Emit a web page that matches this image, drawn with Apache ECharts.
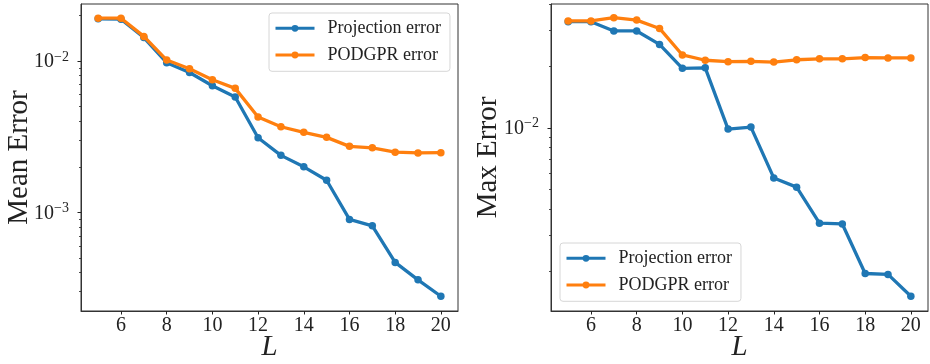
<!DOCTYPE html>
<html><head><meta charset="utf-8">
<script src="https://cdn.jsdelivr.net/npm/echarts@6/dist/echarts.min.js"></script>
<style>html,body{margin:0;padding:0;background:#fff}#c{width:930px;height:364px}</style>
</head><body><div id="c"></div>
<script>
const L = [5, 6, 7, 8, 9, 10, 11, 12, 13, 14, 15, 16, 17, 18, 19, 20];
const meanProjection = [0.0190, 0.0189, 0.0143, 0.00975, 0.0084, 0.00687, 0.00578, 0.00311, 0.00238, 0.00200, 0.00163, 0.000898, 0.000815, 0.000467, 0.000358, 0.000279];
const meanPodgpr = [0.0192, 0.0192, 0.01455, 0.01015, 0.0089, 0.00753, 0.0066, 0.00427, 0.00368, 0.00338, 0.00313, 0.00273, 0.00267, 0.00250, 0.00247, 0.00248];
const maxProjection = [0.0329, 0.0329, 0.02965, 0.02965, 0.0255, 0.0195, 0.0196, 0.00986, 0.01008, 0.0057, 0.00514, 0.00343, 0.0034, 0.00195, 0.00193, 0.00151];
const maxPodgpr = [0.0332, 0.0332, 0.0344, 0.0335, 0.0305, 0.02265, 0.02134, 0.02101, 0.0211, 0.0209, 0.02146, 0.0217, 0.0217, 0.0220, 0.0219, 0.0219];
const xTicks = [6, 8, 10, 12, 14, 16, 18, 20];
const leftMajor = [1e-3, 1e-2];
const leftMinor = [3e-4, 4e-4, 5e-4, 6e-4, 7e-4, 8e-4, 9e-4, 2e-3, 3e-3, 4e-3, 5e-3, 6e-3, 7e-3, 8e-3, 9e-3, 2e-2];
const rightMajor = [1e-2];
const rightMinor = [2e-3, 3e-3, 4e-3, 5e-3, 6e-3, 7e-3, 8e-3, 9e-3, 2e-2, 3e-2, 4e-2];
const seriesNames = ['Projection error', 'PODGPR error'];
const yTitles = ['Mean Error', 'Max Error'];
const xTitle = 'L';

const FONT = '"Liberation Serif", "DejaVu Serif", serif';
const TXT = '#222';
const BLUE = '#1f77b4', ORANGE = '#ff7f0e';

const panels = [
  {left: 81, proj: meanProjection, pod: meanPodgpr, yMin: Math.pow(10, -3.652), yMax: Math.pow(10, -1.623), major: leftMajor, minor: leftMinor, legend: {left: 269, top: 13}, titleX: 19},
  {left: 551, proj: maxProjection, pod: maxPodgpr, yMin: Math.pow(10, -2.8927), yMax: Math.pow(10, -1.3966), major: rightMajor, minor: rightMinor, legend: {left: 560, top: 243}, titleX: 488.5}
];
const GW = 377, GT = 4, GH = 307;

const option = {
  animation: false,
  grid: [], xAxis: [], yAxis: [], series: [], legend: [], graphic: []
};

panels.forEach((p, i) => {
  option.grid.push({left: p.left, top: GT, width: GW, height: GH, show: true, borderColor: '#333', borderWidth: 1, backgroundColor: 'transparent', containLabel: false, outerBoundsMode: 'none'});
  option.xAxis.push({
    gridIndex: i, type: 'value', min: 4.25, max: 20.75,
    axisLine: {show: true, lineStyle: {color: '#333', width: 1}},
    splitLine: {show: false},
    axisTick: {show: true, customValues: xTicks, length: 3.5, lineStyle: {color: TXT, width: 1}},
    axisLabel: {customValues: xTicks, margin: 5, fontFamily: FONT, fontSize: 20, color: TXT}
  });
  const lo = Math.log10(p.yMin), hi = Math.log10(p.yMax);
  const yBase = option.yAxis.length;
  option.yAxis.push({gridIndex: i, type: 'log', logBase: 10, min: p.yMin, max: p.yMax, show: false});
  option.yAxis.push({
    gridIndex: i, type: 'value', min: lo, max: hi, position: 'left',
    axisLine: {show: true, lineStyle: {color: '#333', width: 1}},
    splitLine: {show: false},
    axisTick: {show: true, customValues: p.major.map(Math.log10), length: 3.5, lineStyle: {color: TXT, width: 1}},
    axisLabel: {
      customValues: p.major.map(Math.log10), margin: 12,
      formatter: v => '{b|10}{s|\u2212' + Math.abs(Math.round(v)) + '}',
      rich: {
        b: {fontFamily: FONT, fontSize: 20, color: TXT, lineHeight: 22, verticalAlign: 'bottom'},
        s: {fontFamily: FONT, fontSize: 14, color: TXT, lineHeight: 22, verticalAlign: 'top', padding: [0, 0, 6, 0]}
      }
    }
  });
  option.yAxis.push({
    gridIndex: i, type: 'value', min: lo, max: hi, position: 'left',
    axisLine: {show: false},
    splitLine: {show: false},
    axisTick: {show: true, customValues: p.minor.map(Math.log10), length: 2, lineStyle: {color: TXT, width: 0.8}},
    axisLabel: {show: false}
  });
  [[p.proj, BLUE, 0], [p.pod, ORANGE, 1]].forEach(([vals, col, k]) => {
    option.series.push({
      name: seriesNames[k], type: 'line', xAxisIndex: i, yAxisIndex: yBase,
      data: L.map((x, j) => [x, vals[j]]),
      symbol: 'circle', symbolSize: 7.5, showSymbol: true,
      lineStyle: {color: col, width: 3.3}, itemStyle: {color: col},
      z: 2 + k, silent: true
    });
  });
  option.legend.push({
    orient: 'vertical', left: p.legend.left, top: p.legend.top,
    data: seriesNames, selectedMode: false,
    itemWidth: 39, itemHeight: 8.5, itemGap: 8.7,
    padding: [6.3, 9, 7.3, 5],
    lineStyle: {width: 3},
    backgroundColor: 'rgba(255,255,255,0.8)', borderColor: '#d6d6d6', borderWidth: 1, borderRadius: 3,
    textStyle: {fontFamily: FONT, fontSize: 18, color: TXT, lineHeight: 18, padding: [0, 0, 0, 8]}
  });
  option.graphic.push({
    type: 'text', x: p.titleX, y: 157.5, rotation: Math.PI / 2,
    style: {text: yTitles[i], fontFamily: FONT, fontSize: 29, fill: TXT, align: 'center', verticalAlign: 'middle'}
  });
  option.graphic.push({
    type: 'text', x: p.left + GW / 2, y: 347,
    style: {text: xTitle, fontFamily: FONT, fontStyle: 'italic', fontSize: 29, fill: TXT, align: 'center', verticalAlign: 'middle'}
  });
});

const chart = echarts.init(document.getElementById('c'), null, {renderer: 'canvas'});
chart.setOption(option);
</script>
</body></html>
